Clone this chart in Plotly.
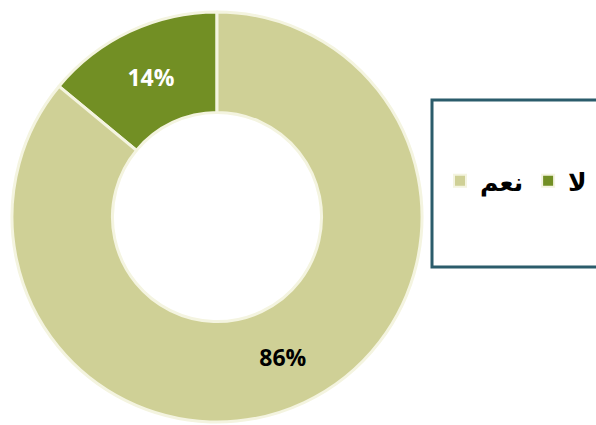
import plotly.graph_objects as go

labels = ["لا", "نعم"]
values = [14, 86]
text_labels = ["14%", "86%"]
colors = ["#728f24", "#cfd096"]
text_colors = ["white", "black"]

W, H = 596, 425
cx, cy, r = 217, 217, 205

fig = go.Figure(go.Pie(
    labels=labels,
    values=values,
    text=text_labels,
    textinfo="text",
    textposition="inside",
    insidetextorientation="horizontal",
    hole=0.51,
    sort=False,
    direction="clockwise",
    rotation=-360 * values[0] / sum(values),
    marker=dict(colors=colors, line=dict(color="#f4f4e0", width=3)),
    textfont=dict(family="Open Sans", size=23, color=text_colors, weight="bold"),
    domain=dict(x=[(cx - r) / W, (cx + r) / W],
                y=[(H - cy - r) / H, (H - cy + r) / H]),
))

fig.update_layout(
    width=W, height=H,
    margin=dict(l=0, r=0, t=0, b=0, autoexpand=False),
    paper_bgcolor="white",
    plot_bgcolor="white",
    showlegend=True,
    legend=dict(
        orientation="h",
        traceorder="reversed",
        x=440 / W, xanchor="left",
        y=1 - 181 / H, yanchor="middle",
        font=dict(family="DejaVu Sans", size=25, color="black", weight="bold"),
        bgcolor="rgba(0,0,0,0)",
        borderwidth=0,
        itemsizing="constant",
    ),
    shapes=[dict(
        type="rect", xref="paper", yref="paper",
        x0=432 / W, x1=1.02, y0=1 - 267 / H, y1=1 - 100 / H,
        line=dict(color="#2b5c6b", width=3),
        fillcolor="rgba(0,0,0,0)",
    )],
)

fig.write_html("out.html")
